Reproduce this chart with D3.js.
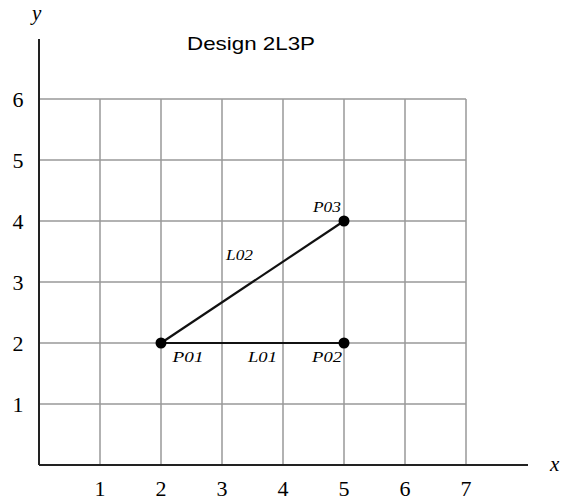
<!DOCTYPE html>
<html><head><meta charset="utf-8">
<script src="https://cdn.jsdelivr.net/npm/d3@7"></script>
<style>body{margin:0;background:#fff}</style>
</head><body>
<svg id="c" width="561" height="501"></svg>
<script>
const xTicks = [1,2,3,4,5,6,7];
const yTicks = [1,2,3,4,5,6];
const pointNames = ["P01","P02","P03"];
const pointX = [2,5,5];
const pointY = [2,2,4];
const lineNames = ["L01","L02"];
const lineFrom = ["P01","P01"];
const lineTo = ["P02","P03"];
const title = "Design 2L3P";

const svg = d3.select("#c");
const x = d3.scaleLinear().domain([0,7]).range([39,466]);
const y = d3.scaleLinear().domain([0,6]).range([465,99]);

// grid
const g = svg.append("g").attr("stroke","#999").attr("stroke-width",1.5);
xTicks.forEach(t=>g.append("line").attr("x1",x(t)).attr("x2",x(t)).attr("y1",y(0)).attr("y2",y(6)));
yTicks.forEach(t=>g.append("line").attr("x1",x(0)).attr("x2",x(7)).attr("y1",y(t)).attr("y2",y(t)));

// axes
svg.append("line").attr("x1",x(0)).attr("x2",528).attr("y1",y(0)).attr("y2",y(0)).attr("stroke","#222").attr("stroke-width",2);
svg.append("line").attr("x1",x(0)).attr("x2",x(0)).attr("y1",y(0)).attr("y2",39).attr("stroke","#222").attr("stroke-width",2);

const serif = "'Liberation Serif','DejaVu Serif',serif";
svg.append("g").selectAll("text").data(xTicks).join("text")
  .attr("x",d=>x(d)).attr("y",496).attr("text-anchor","middle")
  .attr("font-family",serif).attr("font-size",22).text(d=>d);
svg.append("g").selectAll("text").data(yTicks).join("text")
  .attr("x",18).attr("y",d=>y(d)+8).attr("text-anchor","middle")
  .attr("font-family",serif).attr("font-size",22).text(d=>d);

svg.append("text").attr("x",550).attr("y",471).attr("font-family",serif).attr("font-style","italic").attr("font-size",21).text("x");
svg.append("text").attr("x",32).attr("y",20).attr("font-family",serif).attr("font-style","italic").attr("font-size",21).text("y");

svg.append("text").attr("x",187).attr("y",50).attr("font-family","'Liberation Sans',Arial,sans-serif")
  .attr("font-size",19).attr("textLength",128).attr("lengthAdjust","spacingAndGlyphs").text(title);

const pts = {};
pointNames.forEach((n,i)=>pts[n]={x:pointX[i],y:pointY[i]});

lineNames.forEach((n,i)=>{
  const a=pts[lineFrom[i]], b=pts[lineTo[i]];
  svg.append("line").attr("x1",x(a.x)).attr("y1",y(a.y)).attr("x2",x(b.x)).attr("y2",y(b.y))
    .attr("stroke","#111").attr("stroke-width",2.2);
});
svg.append("g").selectAll("circle").data(pointNames).join("circle")
  .attr("cx",d=>x(pts[d].x)).attr("cy",d=>y(pts[d].y)).attr("r",5.5).attr("fill","#000");

const lab = (t,px,py,w)=>svg.append("text").attr("x",px-w/2).attr("y",py)
  .attr("font-family",serif).attr("font-style","italic").attr("font-size",15.5)
  .attr("textLength",w).attr("lengthAdjust","spacingAndGlyphs").text(t);
// labels placed relative to data positions
lab("P03", x(5)-17, y(4)-9, 28);
lab("L02", x((2+5)/2)-13, y(3)-22, 27);
lab("P01", x(2)+27, y(2)+19, 31);
lab("L01", x((2+5)/2)+10, y(2)+19, 29);
lab("P02", x(5)-17, y(2)+19, 30);
</script>
</body></html>
